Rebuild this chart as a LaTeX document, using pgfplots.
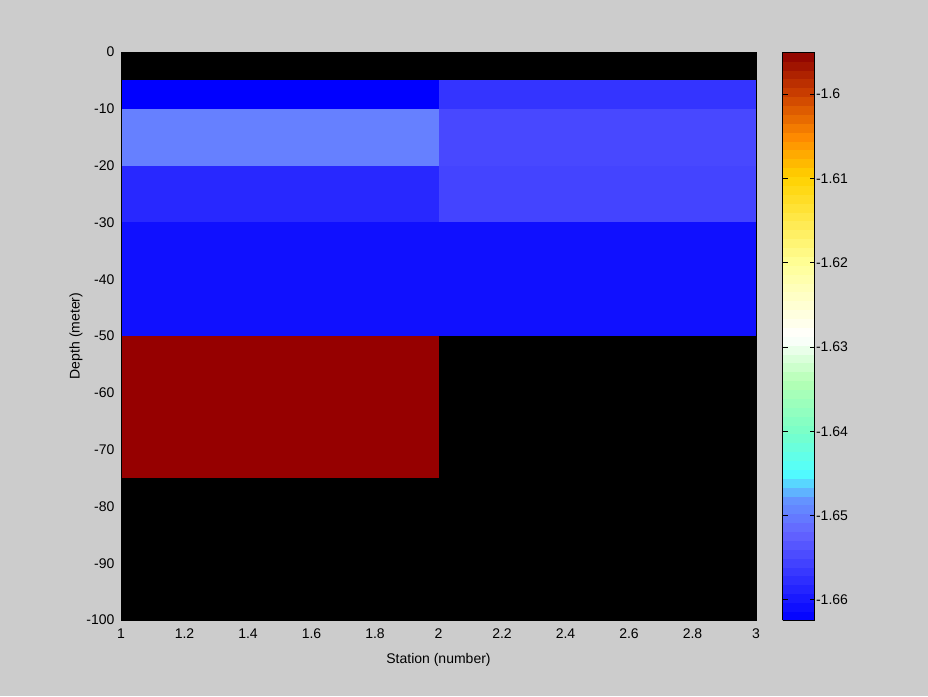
\documentclass[border=0pt]{standalone}
\usepackage{pgfplots}
\pgfplotsset{compat=1.18}
\usepackage{fontspec}
\setmainfont{Liberation Sans}
\definecolor{bg}{RGB}{204,204,204}
\begin{document}
\begin{tikzpicture}
\fill[bg] (-121pt,-76pt) rectangle (807pt,620pt);
\begin{axis}[
  at={(0,0)}, anchor=south west,
  width=635pt, height=568pt, scale only axis,
  xmin=1, xmax=3, ymin=-100, ymax=0,
  xtick={1,1.2,1.4,1.6,1.8,2,2.2,2.4,2.6,2.8,3},
  xticklabels={1,1.2,1.4,1.6,1.8,2,2.2,2.4,2.6,2.8,3},
  ytick={-100,-90,-80,-70,-60,-50,-40,-30,-20,-10,0},
  yticklabels={-100,-90,-80,-70,-60,-50,-40,-30,-20,-10,0},
  major tick length=0pt,
  axis on top,
  tick label style={font=\fontsize{14}{16}\selectfont},
  xticklabel style={yshift=-5pt},
  yticklabel style={xshift=-3pt},
  label style={font=\fontsize{14}{16}\selectfont},
  xlabel={Station (number)}, ylabel={Depth (meter)},
  xlabel style={yshift=-8pt},
  ylabel style={yshift=-3pt},
  colormap={custom}{
    rgb255(0cm)=(0,0,255);
    rgb255(15.4cm)=(100,100,255);
    rgb255(21.4cm)=(100,150,255);
    rgb255(26cm)=(80,255,255);
    rgb255(33cm)=(120,255,200);
    rgb255(42cm)=(180,255,180);
    rgb255(50cm)=(255,255,255);
    rgb255(63cm)=(255,255,150);
    rgb255(78cm)=(255,210,0);
    rgb255(85cm)=(255,140,0);
    rgb255(93cm)=(200,60,0);
    rgb255(100cm)=(140,0,0)
  },
  point meta min=-1.6624, point meta max=-1.595,
  colorbar sampled,
  colorbar style={
    at={(parent axis.north east)}, anchor=north west, xshift=18pt,
    width=32pt, height=568pt,
    samples=65,
    ytick={-1.66,-1.65,-1.64,-1.63,-1.62,-1.61,-1.6},
    yticklabels={-1.66,-1.65,-1.64,-1.63,-1.62,-1.61,-1.6},
    ytick pos=both, yticklabel pos=right,
    ytick align=inside,
    major tick length=5pt,
    tick style={black, line width=0.8pt},
    yticklabel style={font=\fontsize{14}{16}\selectfont, xshift=-2pt},
    axis line style={black, line width=0.8pt},
    axis on top,
  },
]
% row 0 .. -5
\addplot[fill=black, draw=none] coordinates {(1,0) (3,0) (3,-5) (1,-5)} -- cycle;
% row -5 .. -10
\addplot[fill={rgb,255:red,0;green,0;blue,255}, draw=none] coordinates {(1,-5) (2,-5) (2,-10) (1,-10)} -- cycle;
\addplot[fill={rgb,255:red,52;green,52;blue,255}, draw=none] coordinates {(2,-5) (3,-5) (3,-10) (2,-10)} -- cycle;
% row -10 .. -20
\addplot[fill={rgb,255:red,102;green,128;blue,255}, draw=none] coordinates {(1,-10) (2,-10) (2,-20) (1,-20)} -- cycle;
\addplot[fill={rgb,255:red,72;green,72;blue,255}, draw=none] coordinates {(2,-10) (3,-10) (3,-20) (2,-20)} -- cycle;
% row -20 .. -30
\addplot[fill={rgb,255:red,40;green,40;blue,255}, draw=none] coordinates {(1,-20) (2,-20) (2,-30) (1,-30)} -- cycle;
\addplot[fill={rgb,255:red,68;green,68;blue,255}, draw=none] coordinates {(2,-20) (3,-20) (3,-30) (2,-30)} -- cycle;
% row -30 .. -50
\addplot[fill={rgb,255:red,16;green,16;blue,255}, draw=none] coordinates {(1,-30) (3,-30) (3,-50) (1,-50)} -- cycle;
% row -50 .. -75
\addplot[fill={rgb,255:red,150;green,0;blue,0}, draw=none] coordinates {(1,-50) (2,-50) (2,-75) (1,-75)} -- cycle;
\addplot[fill=black, draw=none] coordinates {(2,-50) (3,-50) (3,-75) (2,-75)} -- cycle;
% row -75 .. -100
\addplot[fill=black, draw=none] coordinates {(1,-75) (3,-75) (3,-100) (1,-100)} -- cycle;
\end{axis}
\end{tikzpicture}
\end{document}
